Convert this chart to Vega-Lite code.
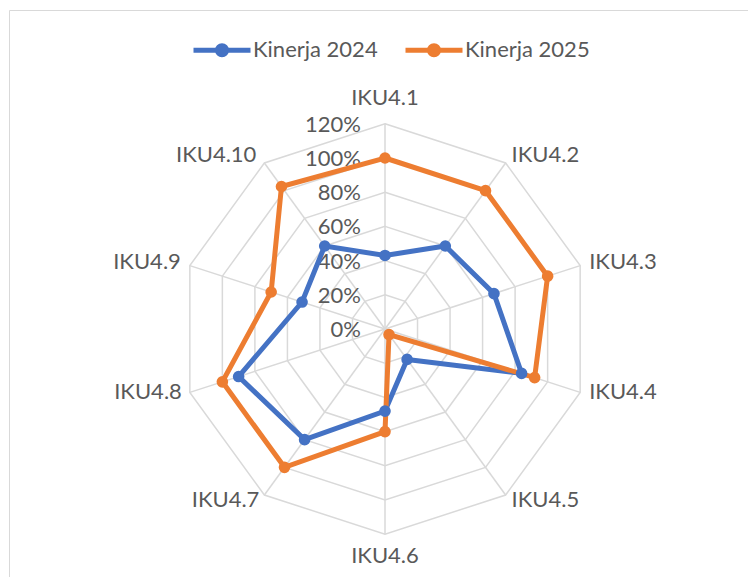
{
  "$schema": "https://vega.github.io/schema/vega-lite/v6.json",
  "width": 745,
  "height": 577,
  "padding": {"left": 9, "top": 10, "right": 0, "bottom": 0},
  "autosize": {"type": "none"},
  "background": "white",
  "config": {
    "view": {"stroke": "#d9d9d9", "strokeWidth": 1},
    "font": "Lato",
    "text": {"font": "Lato", "fontSize": 22, "color": "#595959"}
  },
  "datasets": {
    "scores": [
      {"axis": "IKU4.1", "k": 0, "series": "Kinerja 2024", "value": 0.43},
      {"axis": "IKU4.2", "k": 1, "series": "Kinerja 2024", "value": 0.60},
      {"axis": "IKU4.3", "k": 2, "series": "Kinerja 2024", "value": 0.67},
      {"axis": "IKU4.4", "k": 3, "series": "Kinerja 2024", "value": 0.84},
      {"axis": "IKU4.5", "k": 4, "series": "Kinerja 2024", "value": 0.22},
      {"axis": "IKU4.6", "k": 5, "series": "Kinerja 2024", "value": 0.48},
      {"axis": "IKU4.7", "k": 6, "series": "Kinerja 2024", "value": 0.80},
      {"axis": "IKU4.8", "k": 7, "series": "Kinerja 2024", "value": 0.90},
      {"axis": "IKU4.9", "k": 8, "series": "Kinerja 2024", "value": 0.51},
      {"axis": "IKU4.10", "k": 9, "series": "Kinerja 2024", "value": 0.60},
      {"axis": "IKU4.1", "k": 0, "series": "Kinerja 2025", "value": 1.00},
      {"axis": "IKU4.2", "k": 1, "series": "Kinerja 2025", "value": 1.00},
      {"axis": "IKU4.3", "k": 2, "series": "Kinerja 2025", "value": 1.00},
      {"axis": "IKU4.4", "k": 3, "series": "Kinerja 2025", "value": 0.92},
      {"axis": "IKU4.5", "k": 4, "series": "Kinerja 2025", "value": 0.04},
      {"axis": "IKU4.6", "k": 5, "series": "Kinerja 2025", "value": 0.60},
      {"axis": "IKU4.7", "k": 6, "series": "Kinerja 2025", "value": 1.00},
      {"axis": "IKU4.8", "k": 7, "series": "Kinerja 2025", "value": 1.00},
      {"axis": "IKU4.9", "k": 8, "series": "Kinerja 2025", "value": 0.70},
      {"axis": "IKU4.10", "k": 9, "series": "Kinerja 2025", "value": 1.03}
    ],
    "axes": [
      {"axis": "IKU4.1", "k": 0},
      {"axis": "IKU4.2", "k": 1},
      {"axis": "IKU4.3", "k": 2},
      {"axis": "IKU4.4", "k": 3},
      {"axis": "IKU4.5", "k": 4},
      {"axis": "IKU4.6", "k": 5},
      {"axis": "IKU4.7", "k": 6},
      {"axis": "IKU4.8", "k": 7},
      {"axis": "IKU4.9", "k": 8},
      {"axis": "IKU4.10", "k": 9}
    ],
    "rings": [
      {"ring": 0.2, "k": [0, 1, 2, 3, 4, 5, 6, 7, 8, 9]},
      {"ring": 0.4, "k": [0, 1, 2, 3, 4, 5, 6, 7, 8, 9]},
      {"ring": 0.6, "k": [0, 1, 2, 3, 4, 5, 6, 7, 8, 9]},
      {"ring": 0.8, "k": [0, 1, 2, 3, 4, 5, 6, 7, 8, 9]},
      {"ring": 1.0, "k": [0, 1, 2, 3, 4, 5, 6, 7, 8, 9]},
      {"ring": 1.2, "k": [0, 1, 2, 3, 4, 5, 6, 7, 8, 9]}
    ],
    "ticks": [
      {"v": 0}, {"v": 0.2}, {"v": 0.4}, {"v": 0.6}, {"v": 0.8}, {"v": 1.0}, {"v": 1.2}
    ]
  },
  "encoding": {
    "x": {"field": "x", "type": "quantitative", "axis": null,
          "scale": {"domain": [-2.19883, 2.15789], "nice": false, "zero": false}},
    "y": {"field": "y", "type": "quantitative", "axis": null,
          "scale": {"domain": [-1.508772, 1.865497], "nice": false, "zero": false}}
  },
  "layer": [
    {
      "data": {"name": "rings"},
      "transform": [
        {"flatten": ["k"]},
        {"calculate": "datum.ring * sin(datum.k * PI / 5)", "as": "x"},
        {"calculate": "datum.ring * cos(datum.k * PI / 5)", "as": "y"}
      ],
      "mark": {"type": "line", "interpolate": "linear-closed", "stroke": "#d9d9d9", "strokeWidth": 1.5},
      "encoding": {
        "detail": {"field": "ring", "type": "nominal"},
        "order": {"field": "k", "type": "quantitative"}
      }
    },
    {
      "data": {"name": "axes"},
      "transform": [
        {"calculate": "0", "as": "x"},
        {"calculate": "0", "as": "y"},
        {"calculate": "1.2 * sin(datum.k * PI / 5)", "as": "x2"},
        {"calculate": "1.2 * cos(datum.k * PI / 5)", "as": "y2"}
      ],
      "mark": {"type": "rule", "stroke": "#d9d9d9", "strokeWidth": 1.5},
      "encoding": {
        "x2": {"field": "x2"},
        "y2": {"field": "y2"}
      }
    },
    {
      "data": {"name": "ticks"},
      "transform": [
        {"calculate": "0", "as": "x"},
        {"calculate": "datum.v", "as": "y"}
      ],
      "mark": {"type": "text", "align": "right", "baseline": "middle", "dx": -24, "dy": 1},
      "encoding": {
        "text": {"field": "v", "type": "quantitative", "format": ".0%"}
      }
    },
    {
      "data": {"name": "axes"},
      "transform": [
        {"filter": "datum.k == 0"},
        {"calculate": "1.2 * sin(datum.k * PI / 5)", "as": "x"},
        {"calculate": "1.2 * cos(datum.k * PI / 5)", "as": "y"}
      ],
      "mark": {"type": "text", "align": "center", "baseline": "middle", "dy": -26},
      "encoding": {"text": {"field": "axis"}}
    },
    {
      "data": {"name": "axes"},
      "transform": [
        {"filter": "datum.k == 5"},
        {"calculate": "1.2 * sin(datum.k * PI / 5)", "as": "x"},
        {"calculate": "1.2 * cos(datum.k * PI / 5)", "as": "y"}
      ],
      "mark": {"type": "text", "align": "center", "baseline": "middle", "dy": 22},
      "encoding": {"text": {"field": "axis"}}
    },
    {
      "data": {"name": "axes"},
      "transform": [
        {"filter": "datum.k == 1"},
        {"calculate": "1.2 * sin(datum.k * PI / 5)", "as": "x"},
        {"calculate": "1.2 * cos(datum.k * PI / 5)", "as": "y"}
      ],
      "mark": {"type": "text", "align": "left", "baseline": "middle", "dx": 6, "dy": -8},
      "encoding": {"text": {"field": "axis"}}
    },
    {
      "data": {"name": "axes"},
      "transform": [
        {"filter": "datum.k == 2"},
        {"calculate": "1.2 * sin(datum.k * PI / 5)", "as": "x"},
        {"calculate": "1.2 * cos(datum.k * PI / 5)", "as": "y"}
      ],
      "mark": {"type": "text", "align": "left", "baseline": "middle", "dx": 9, "dy": -4},
      "encoding": {"text": {"field": "axis"}}
    },
    {
      "data": {"name": "axes"},
      "transform": [
        {"filter": "datum.k == 3"},
        {"calculate": "1.2 * sin(datum.k * PI / 5)", "as": "x"},
        {"calculate": "1.2 * cos(datum.k * PI / 5)", "as": "y"}
      ],
      "mark": {"type": "text", "align": "left", "baseline": "middle", "dx": 9, "dy": 0},
      "encoding": {"text": {"field": "axis"}}
    },
    {
      "data": {"name": "axes"},
      "transform": [
        {"filter": "datum.k == 4"},
        {"calculate": "1.2 * sin(datum.k * PI / 5)", "as": "x"},
        {"calculate": "1.2 * cos(datum.k * PI / 5)", "as": "y"}
      ],
      "mark": {"type": "text", "align": "left", "baseline": "middle", "dx": 6, "dy": 5},
      "encoding": {"text": {"field": "axis"}}
    },
    {
      "data": {"name": "axes"},
      "transform": [
        {"filter": "datum.k == 6"},
        {"calculate": "1.2 * sin(datum.k * PI / 5)", "as": "x"},
        {"calculate": "1.2 * cos(datum.k * PI / 5)", "as": "y"}
      ],
      "mark": {"type": "text", "align": "right", "baseline": "middle", "dx": -5, "dy": 5},
      "encoding": {"text": {"field": "axis"}}
    },
    {
      "data": {"name": "axes"},
      "transform": [
        {"filter": "datum.k == 7"},
        {"calculate": "1.2 * sin(datum.k * PI / 5)", "as": "x"},
        {"calculate": "1.2 * cos(datum.k * PI / 5)", "as": "y"}
      ],
      "mark": {"type": "text", "align": "right", "baseline": "middle", "dx": -8, "dy": 0},
      "encoding": {"text": {"field": "axis"}}
    },
    {
      "data": {"name": "axes"},
      "transform": [
        {"filter": "datum.k == 8"},
        {"calculate": "1.2 * sin(datum.k * PI / 5)", "as": "x"},
        {"calculate": "1.2 * cos(datum.k * PI / 5)", "as": "y"}
      ],
      "mark": {"type": "text", "align": "right", "baseline": "middle", "dx": -9, "dy": -4},
      "encoding": {"text": {"field": "axis"}}
    },
    {
      "data": {"name": "axes"},
      "transform": [
        {"filter": "datum.k == 9"},
        {"calculate": "1.2 * sin(datum.k * PI / 5)", "as": "x"},
        {"calculate": "1.2 * cos(datum.k * PI / 5)", "as": "y"}
      ],
      "mark": {"type": "text", "align": "right", "baseline": "middle", "dx": -8, "dy": -8},
      "encoding": {"text": {"field": "axis"}}
    },
    {
      "data": {"name": "scores"},
      "transform": [
        {"calculate": "datum.value * sin(datum.k * PI / 5)", "as": "x"},
        {"calculate": "datum.value * cos(datum.k * PI / 5)", "as": "y"}
      ],
      "mark": {"type": "line", "interpolate": "linear-closed", "strokeWidth": 5},
      "encoding": {
        "color": {
          "field": "series", "type": "nominal",
          "scale": {"domain": ["Kinerja 2024", "Kinerja 2025"], "range": ["#4472C4", "#ED7D31"]},
          "legend": {
            "title": null, "orient": "none", "legendX": 182, "legendY": 9,
            "direction": "horizontal", "padding": 0,
            "symbolType": "M-1,0H1M0.16,0A0.16,0.16,0,1,1,-0.16,0A0.16,0.16,0,1,1,0.16,0Z",
            "symbolSize": 3249, "symbolStrokeWidth": 5,
            "labelFont": "Lato", "labelFontSize": 22, "labelColor": "#595959",
            "labelOffset": 0, "columnPadding": 17,
            "encode": {"symbols": {"update": {
              "fill": {"scale": "color", "field": "value"},
              "stroke": {"scale": "color", "field": "value"},
              "opacity": {"value": 1}
            }}}
          }
        },
        "detail": {"field": "series", "type": "nominal"},
        "order": {"field": "k", "type": "quantitative"}
      }
    },
    {
      "data": {"name": "scores"},
      "transform": [
        {"calculate": "datum.value * sin(datum.k * PI / 5)", "as": "x"},
        {"calculate": "datum.value * cos(datum.k * PI / 5)", "as": "y"}
      ],
      "mark": {"type": "point", "filled": true, "size": 135, "opacity": 1, "shape": "circle"},
      "encoding": {
        "color": {"field": "series", "type": "nominal"}
      }
    }
  ]
}
